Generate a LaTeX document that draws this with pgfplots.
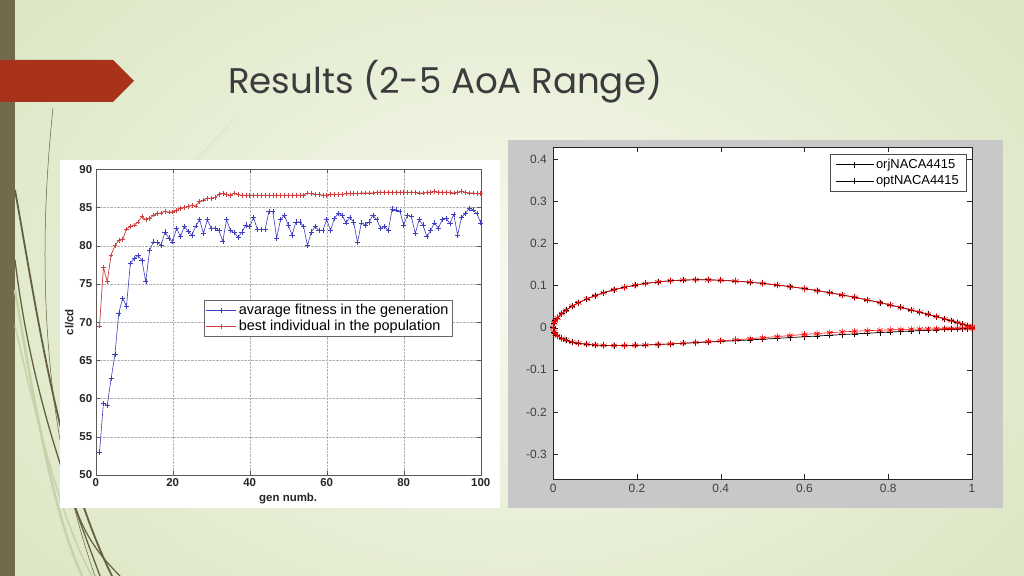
\documentclass[border=0pt]{standalone}
\usepackage{fontspec}
\setmainfont{Liberation Sans}
\newfontfamily\titlefont{Poppins}
\usepackage{graphicx}
\usepackage{pgfplots}
\pgfplotsset{compat=1.18}
\definecolor{bgin}{RGB}{246,249,237}
\definecolor{bgout}{RGB}{221,231,198}
\definecolor{barc}{RGB}{115,106,77}
\definecolor{arrowc}{RGB}{168,50,26}
\definecolor{olive}{RGB}{100,95,62}
\definecolor{pale}{RGB}{200,210,170}
\definecolor{mblue}{RGB}{62,62,190}
\definecolor{mred}{RGB}{205,62,62}
\definecolor{panelgray}{RGB}{200,200,200}
\definecolor{titlec}{RGB}{60,60,60}

\pgfplotstableread{
x y
1.000 0.0016
0.990 0.0046
0.978 0.0083
0.965 0.0121
0.950 0.0165
0.935 0.0207
0.915 0.0263
0.895 0.0317
0.875 0.0369
0.855 0.0419
0.830 0.0480
0.805 0.0539
0.780 0.0595
0.750 0.0659
0.720 0.0720
0.690 0.0777
0.660 0.0830
0.630 0.0880
0.600 0.0926
0.565 0.0975
0.535 0.1012
0.500 0.1051
0.470 0.1079
0.435 0.1106
0.400 0.1125
0.370 0.1135
0.340 0.1137
0.310 0.1130
0.280 0.1113
0.250 0.1086
0.220 0.1049
0.195 0.1008
0.170 0.0959
0.145 0.0899
0.120 0.0828
0.100 0.0760
0.080 0.0682
0.060 0.0591
0.045 0.0510
0.030 0.0413
0.020 0.0334
0.010 0.0233
0.005 0.0163
0.0025 0.0114
0.000 0.0000
0.0025 -0.0104
0.005 -0.0143
0.010 -0.0193
0.020 -0.0256
0.030 -0.0297
0.045 -0.0340
0.060 -0.0369
0.080 -0.0394
0.100 -0.0410
0.120 -0.0420
0.145 -0.0424
0.170 -0.0423
0.195 -0.0419
0.220 -0.0411
0.250 -0.0399
0.280 -0.0385
0.310 -0.0370
0.340 -0.0355
0.370 -0.0340
0.400 -0.0325
0.435 -0.0308
0.470 -0.0290
0.500 -0.0273
0.535 -0.0253
0.565 -0.0235
0.600 -0.0215
0.630 -0.0198
0.660 -0.0180
0.690 -0.0164
0.720 -0.0147
0.750 -0.0131
0.780 -0.0116
0.805 -0.0103
0.830 -0.0091
0.855 -0.0079
0.875 -0.0070
0.895 -0.0061
0.915 -0.0052
0.935 -0.0043
0.950 -0.0037
0.965 -0.0030
0.978 -0.0025
0.990 -0.0020
1.000 -0.0016
}\orig

\pgfplotstableread{
x y
1.000 0.0016
0.990 0.0046
0.978 0.0083
0.965 0.0121
0.950 0.0165
0.935 0.0207
0.915 0.0263
0.895 0.0317
0.875 0.0369
0.855 0.0419
0.830 0.0480
0.805 0.0539
0.780 0.0595
0.750 0.0659
0.720 0.0720
0.690 0.0777
0.660 0.0830
0.630 0.0880
0.600 0.0926
0.565 0.0975
0.535 0.1012
0.500 0.1051
0.470 0.1079
0.435 0.1106
0.400 0.1125
0.370 0.1135
0.340 0.1137
0.310 0.1130
0.280 0.1113
0.250 0.1086
0.220 0.1049
0.195 0.1008
0.170 0.0959
0.145 0.0899
0.120 0.0828
0.100 0.0760
0.080 0.0682
0.060 0.0591
0.045 0.0510
0.030 0.0413
0.020 0.0334
0.010 0.0233
0.005 0.0163
0.0025 0.0114
0.000 0.0000
0.0025 -0.0104
0.005 -0.0143
0.010 -0.0193
0.020 -0.0256
0.030 -0.0297
0.045 -0.0340
0.060 -0.0369
0.080 -0.0394
0.100 -0.0410
0.120 -0.0420
0.145 -0.0424
0.170 -0.0423
0.195 -0.0419
0.220 -0.0411
0.250 -0.0399
0.280 -0.0385
0.310 -0.0370
0.340 -0.0350
0.370 -0.0330
0.400 -0.0310
0.435 -0.0288
0.470 -0.0262
0.500 -0.0238
0.535 -0.0211
0.565 -0.0187
0.600 -0.0160
0.630 -0.0138
0.660 -0.0118
0.690 -0.0101
0.720 -0.0085
0.750 -0.0071
0.780 -0.0060
0.805 -0.0051
0.830 -0.0044
0.855 -0.0037
0.875 -0.0033
0.895 -0.0029
0.915 -0.0025
0.935 -0.0021
0.950 -0.0019
0.965 -0.0017
0.978 -0.0016
0.990 -0.0015
1.000 -0.0016
}\opt

\pgfplotstableread{
g v
1 53.0
2 59.4
3 59.1
4 62.6
5 65.8
6 71.2
7 73.1
8 72.1
9 77.7
10 78.3
11 78.7
12 78.1
13 75.3
14 79.4
15 80.5
16 80.4
17 80.1
18 81.8
19 81.0
20 80.5
21 82.3
22 81.2
23 82.5
24 81.9
25 81.4
26 82.6
27 83.4
28 81.6
29 83.4
30 82.3
31 82.3
32 82.0
33 80.6
34 83.4
35 82.0
36 81.7
37 81.1
38 81.8
39 82.7
40 82.5
41 83.7
42 82.1
43 82.1
44 82.1
45 84.5
46 84.5
47 81.0
48 83.4
49 84.0
50 82.7
51 81.4
52 83.1
53 83.1
54 82.5
55 80.0
56 81.8
57 82.5
58 82.0
59 82.0
60 83.4
61 82.0
62 83.6
63 84.2
64 84.0
65 83.0
66 83.7
67 83.1
68 80.4
69 83.0
70 82.7
71 83.1
72 84.0
73 83.4
74 82.3
75 82.5
76 82.0
77 84.8
78 84.7
79 84.5
80 82.7
81 84.0
82 83.8
83 81.6
84 83.4
85 82.7
86 81.2
87 82.0
88 83.0
89 82.3
90 83.4
91 83.6
92 82.9
93 84.1
94 81.4
95 83.7
96 84.2
97 84.9
98 84.7
99 84.2
100 83.0
}\avg

\pgfplotstableread{
g v
1 69.5
2 77.2
3 75.3
4 78.8
5 80.0
6 80.7
7 80.8
8 82.2
9 82.5
10 82.7
11 83.1
12 83.8
13 83.4
14 83.6
15 84.0
16 84.2
17 84.3
18 84.5
19 84.4
20 84.4
21 84.6
22 84.9
23 85.0
24 85.1
25 85.3
26 85.2
27 85.8
28 86.0
29 86.2
30 86.2
31 86.3
32 86.7
33 86.8
34 86.7
35 86.6
36 86.9
37 86.7
38 86.6
39 86.6
40 86.6
41 86.6
42 86.6
43 86.6
44 86.6
45 86.6
46 86.6
47 86.6
48 86.6
49 86.6
50 86.6
51 86.6
52 86.6
53 86.6
54 86.6
55 86.9
56 86.8
57 86.7
58 86.7
59 86.6
60 86.6
61 86.7
62 86.7
63 86.7
64 86.7
65 86.8
66 86.8
67 86.8
68 86.8
69 86.9
70 86.9
71 86.9
72 86.9
73 87.0
74 87.0
75 87.0
76 87.0
77 87.0
78 87.0
79 87.0
80 87.0
81 87.0
82 87.0
83 87.0
84 86.9
85 86.9
86 87.0
87 87.0
88 87.1
89 87.0
90 87.0
91 87.0
92 87.0
93 86.9
94 87.0
95 87.1
96 87.0
97 86.9
98 86.9
99 86.8
100 86.8
}\best

\begin{document}
\begin{tikzpicture}[x=1bp,y=1bp]
\useasboundingbox (0,0) rectangle (1024,576);
\clip (0,0) rectangle (1024,576);
\shade[inner color=bgin, outer color=bgout] (-100,-150) rectangle (1124,726);
% left bar
\fill[barc] (0,0) rectangle (15,576);
% decorative curves
\draw[pale, line width=2.5bp] (15,286) .. controls (38,150) and (55,60) .. (82,0);
\draw[pale, line width=1.5bp] (15,250) .. controls (45,120) and (65,50) .. (92,0);
\draw[olive, line width=1.8bp] (15,386) .. controls (40,246) and (60,106) .. (112,0);
\draw[olive, line width=1.3bp] (15,316) .. controls (32,176) and (72,76) .. (100,0);
\draw[olive, line width=0.5bp] (53,468) .. controls (38,326) and (40,156) .. (95,0);
\draw[olive, line width=1.2bp] (75,70) .. controls (85,40) and (100,20) .. (120,0);
\draw[pale!70!white, line width=0.5bp] (235,458) -- (150,366);
% red arrow
\fill[arrowc] (0,474) -- (113,474) -- (134,495) -- (113,516) -- (0,516) -- cycle;
% title
\node[anchor=base west, inner sep=0pt, text=titlec] at (228,482)
  {\resizebox{434bp}{!}{\titlefont Results (2-5 AoA Range)}};
% panels
\fill[white] (60,68) rectangle (500,416);
\fill[panelgray] (508,68) rectangle (1003,436);

% left chart
\begin{axis}[at={(95.7bp,101bp)}, anchor=south west, scale only axis,
  width=385bp, height=305.7bp,
  xmin=0, xmax=100, ymin=50, ymax=90,
  xtick={0,20,40,60,80,100}, ytick={50,55,60,65,70,75,80,85,90},
  grid=major, major grid style={densely dotted, black!30},
  tick align=inside, major tick length=4bp,
  axis line style={black!65}, tick style={black!65},
  ticklabel style={font=\fontsize{11.5}{12}\selectfont\bfseries, text=black!85},
  /pgf/number format/assume math mode=true,
  xlabel={gen numb.}, ylabel={cl/cd},
  label style={font=\fontsize{11.5}{12}\selectfont\bfseries, text=black!85},
  xlabel style={yshift=0bp},
  ylabel style={yshift=-1bp},
  legend style={at={(0.281,0.572)}, anchor=north west, draw=black!60,
    font=\fontsize{14.5}{16}\selectfont, row sep=0bp, inner sep=2bp},
  legend cell align=left,
  legend image code/.code={\draw[mark repeat=2,mark phase=2,#1] plot coordinates {(0bp,0bp)(15bp,0bp)(30bp,0bp)};},
]
\addplot[mblue, line width=0.6bp, mark=+, mark size=2.6bp, mark options={line width=0.5bp}] table[x=g,y=v] {\avg};
\addlegendentry{avarage fitness in the generation}
\addplot[mred, line width=0.7bp, mark=+, mark size=2.3bp, mark options={line width=0.5bp}] table[x=g,y=v] {\best};
\addlegendentry{best individual in the population}
\end{axis}

% right chart
\begin{axis}[at={(553.3bp,97bp)}, anchor=south west, scale only axis,
  width=418.7bp, height=331.7bp,
  xmin=0, xmax=1, ymin=-0.359, ymax=0.428,
  xtick={0,0.2,0.4,0.6,0.8,1}, ytick={-0.3,-0.2,-0.1,0,0.1,0.2,0.3,0.4},
  axis background/.style={fill=white},
  tick align=inside, major tick length=5bp,
  axis line style={black!85}, tick style={black!85},
  ticklabel style={font=\fontsize{12}{13}\selectfont, text=black!75},
  /pgf/number format/assume math mode=true,
  yticklabel style={xshift=-3bp},
  xticklabel style={yshift=-2bp},
  legend style={at={(0.9857,0.9798)}, anchor=north east, draw=black!70,
    font=\fontsize{13}{15}\selectfont, row sep=1.5bp, inner xsep=5bp, inner ysep=3bp},
  legend cell align=left,
  legend image code/.code={\draw[mark repeat=2,mark phase=2,#1] plot coordinates {(0bp,0bp)(19bp,0bp)(38bp,0bp)};},
]
\addlegendimage{black, line width=0.6bp, mark=+, mark size=3bp}
\addlegendentry{orjNACA4415}
\addlegendimage{black, line width=0.6bp, mark=+, mark size=3bp}
\addlegendentry{optNACA4415}
\addplot[black, line width=0.7bp, mark=+, mark size=3bp, forget plot] table[x=x,y=y] {\orig};
\addplot[red, line width=0.6bp, mark=asterisk, mark size=3.4bp, mark options={line width=0.6bp}, forget plot] table[x=x,y=y] {\opt};
\end{axis}
\end{tikzpicture}
\end{document}
